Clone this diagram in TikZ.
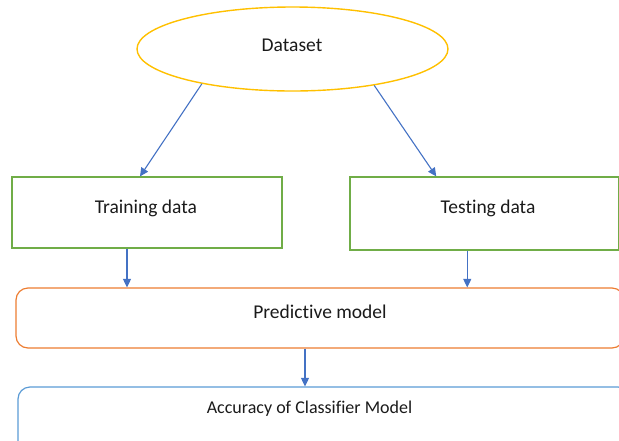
\documentclass[tikz,border=0pt]{standalone}
\usepackage{fontspec}
\setmainfont{Carlito}[Ligatures=NoCommon]
\usetikzlibrary{arrows.meta,shapes.geometric}
\definecolor{dsgold}{HTML}{FFC000}
\definecolor{boxgreen}{HTML}{70AD47}
\definecolor{boxorange}{HTML}{ED7D31}
\definecolor{boxblue}{HTML}{5B9BD5}
\definecolor{arrowblue}{HTML}{4472C4}
\definecolor{txtgray}{HTML}{1A1A1A}
\begin{document}
\begin{tikzpicture}[x=1pt,y=-1pt,
    flow/.style={-{Triangle[width=8pt,length=8.5pt]},draw=arrowblue,line width=1.1pt},
    databox/.style={draw=boxgreen,line width=1.2pt,inner sep=0pt},
    modelbox/.style={rounded corners=12pt,line width=1.2pt,inner sep=0pt},
    txt/.style={font=\fontsize{19.5}{23}\selectfont,text=txtgray,inner sep=0pt}]
    \useasboundingbox (0,0) rectangle (619,440);
    \clip (0,0) rectangle (619,440);
    % shapes
    \node[ellipse,draw=dsgold,line width=1.4pt,inner sep=0pt,minimum width=311pt,minimum height=84pt] (data) at (292.5,49) {};
    \node[databox,minimum width=270pt,minimum height=71pt] (train) at (147,212.5) {};
    \node[databox,minimum width=268.5pt,minimum height=73pt] (test) at (484.25,213.5) {};
    \node[modelbox,draw=boxorange,minimum width=608pt,minimum height=60pt] (pred) at (320,318) {};
    \node[modelbox,draw=boxblue,minimum width=612pt,minimum height=73pt] (acc) at (324,423.5) {};
    % texts
    \node[txt] (datatext) at (292,45) {Dataset};
    \node[txt] (traintext) at (146,208) {Training data};
    \node[txt] (testtext) at (488,208) {Testing data};
    \node[txt] (predtext) at (320,312) {Predictive model};
    \node[txt,font=\fontsize{18}{22}\selectfont] (acctext) at (309.5,409) {Accuracy of Classifier Model};
    % arrows
    \draw[flow] (data.201.6) -- ([xshift=-7pt]train.north);
    \draw[flow] (data.336) -- ([xshift=-48pt]test.north);
    \coordinate (trainout) at ([xshift=-20pt]train.south);
    \coordinate (testout) at ([xshift=-17pt]test.south);
    \coordinate (predout) at ([xshift=-15pt]pred.south);
    \draw[flow] (trainout) -- (trainout |- pred.north);
    \draw[flow] (testout) -- (testout |- pred.north);
    \draw[flow] (predout) -- (predout |- acc.north);
\end{tikzpicture}
\end{document}
